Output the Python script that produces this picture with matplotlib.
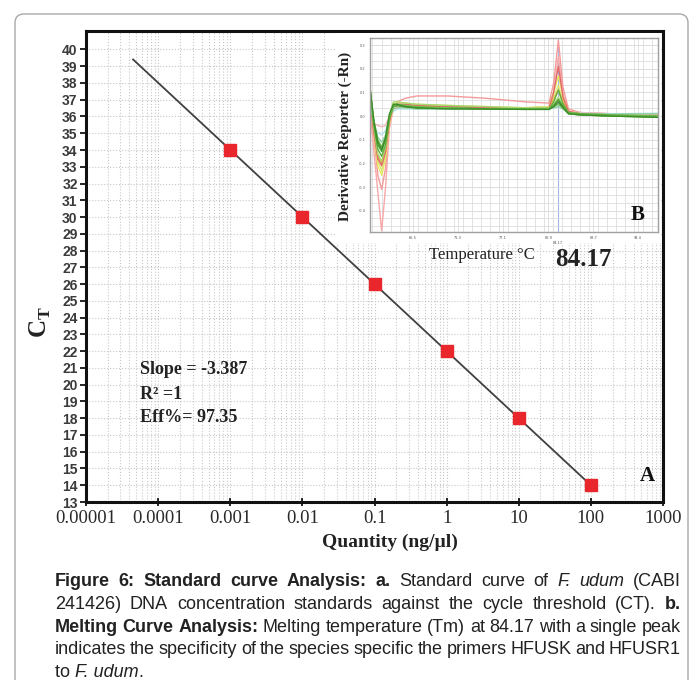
import matplotlib
matplotlib.use("Agg")
import matplotlib.pyplot as plt
from matplotlib.patches import FancyBboxPatch, Rectangle
from matplotlib.transforms import IdentityTransform
from matplotlib.ticker import FixedLocator, LogLocator, MultipleLocator, NullFormatter

W, H = 699, 680

# panel A: standard curve
qty = [0.001, 0.01, 0.1, 1, 10, 100]
ct = [34, 30, 26, 22, 18, 14]
fit_x = [4.5e-5, 100]
fit_y = [39.4, 14]
x_ticks = [1e-5, 1e-4, 1e-3, 1e-2, 1e-1, 1, 10, 100, 1000]
x_tick_labels = ["0.00001", "0.0001", "0.001", "0.01", "0.1", "1", "10", "100", "1000"]
y_ticks = list(range(13, 41))
stats = ["Slope = -3.387", "R\u00b2 =1", "Eff%= 97.35"]

# panel B: melt curves (derivative reporter vs temperature)
temp = [60.0, 60.5, 61.0, 61.5, 62.0, 62.5, 63.0, 63.5, 64.5, 66.0, 70.0,
        75.0, 80.0, 83.0, 83.6, 84.2, 84.8, 85.5, 87.0, 91.0, 97.0]
melt_colors = ['#f7a8a8', '#f49a9a', '#f3b5b5', '#b8e0ea', '#e8e860', '#d8e870',
               '#e8a848', '#e06a6a', '#a8d870', '#90d0a0', '#60b040', '#4aa030',
               '#70c050', '#3c8c28']
melt = [
    [0.02, -0.15, -0.32, -0.485, -0.30, -0.05, 0.03, 0.035, 0.04, 0.04, 0.035, 0.035, 0.035, 0.04, 0.10, 0.25, 0.09, 0.02, 0.01, 0.005, -0.005],
    [0.06, -0.08, -0.25, -0.31, -0.22, -0.02, 0.04, 0.06, 0.075, 0.085, 0.085, 0.075, 0.06, 0.055, 0.14, 0.32, 0.12, 0.03, 0.015, 0.01, 0.005],
    [0.00, -0.03, -0.04, -0.045, -0.04, 0.00, 0.03, 0.04, 0.045, 0.045, 0.04, 0.035, 0.035, 0.035, 0.05, 0.06, 0.04, 0.02, 0.015, 0.01, 0.01],
    [0.02, -0.04, -0.07, -0.08, -0.06, -0.01, 0.02, 0.03, 0.03, 0.03, 0.03, 0.03, 0.03, 0.03, 0.035, 0.04, 0.03, 0.015, 0.012, 0.01, 0.012],
    [0.08, -0.07, -0.21, -0.25, -0.18, -0.03, 0.04, 0.05, 0.05, 0.045, 0.04, 0.035, 0.035, 0.04, 0.10, 0.17, 0.08, 0.02, 0.01, 0.005, 0.0],
    [0.09, -0.06, -0.19, -0.23, -0.16, -0.02, 0.05, 0.06, 0.055, 0.05, 0.045, 0.04, 0.035, 0.04, 0.08, 0.13, 0.06, 0.015, 0.01, 0.005, 0.0],
    [0.07, -0.06, -0.17, -0.20, -0.14, -0.02, 0.04, 0.045, 0.045, 0.04, 0.04, 0.035, 0.035, 0.035, 0.07, 0.11, 0.06, 0.015, 0.01, 0.005, 0.0],
    [0.06, -0.07, -0.18, -0.21, -0.15, -0.02, 0.04, 0.05, 0.05, 0.045, 0.04, 0.035, 0.03, 0.035, 0.10, 0.21, 0.08, 0.02, 0.01, 0.005, 0.0],
    [0.10, -0.05, -0.16, -0.19, -0.13, 0.00, 0.06, 0.06, 0.055, 0.05, 0.045, 0.04, 0.035, 0.035, 0.05, 0.08, 0.045, 0.015, 0.01, 0.005, 0.0],
    [0.05, -0.03, -0.09, -0.11, -0.08, 0.00, 0.03, 0.035, 0.035, 0.03, 0.03, 0.03, 0.03, 0.03, 0.035, 0.04, 0.03, 0.012, 0.01, 0.008, 0.01],
    [0.12, -0.04, -0.14, -0.17, -0.12, -0.01, 0.04, 0.045, 0.04, 0.035, 0.035, 0.03, 0.03, 0.03, 0.06, 0.11, 0.05, 0.015, 0.01, 0.005, 0.0],
    [0.12, -0.03, -0.12, -0.15, -0.10, 0.00, 0.04, 0.045, 0.04, 0.035, 0.035, 0.03, 0.03, 0.03, 0.045, 0.07, 0.04, 0.01, 0.005, 0.0, -0.005],
    [0.11, -0.02, -0.10, -0.13, -0.09, 0.00, 0.045, 0.05, 0.045, 0.04, 0.035, 0.03, 0.03, 0.03, 0.04, 0.05, 0.035, 0.01, 0.005, 0.0, 0.0],
    [0.12, -0.02, -0.11, -0.14, -0.09, 0.01, 0.05, 0.05, 0.04, 0.035, 0.03, 0.03, 0.028, 0.028, 0.04, 0.06, 0.035, 0.01, 0.005, 0.0, -0.005],
]
tm = 84.17
melt_xticks = [65.5, 71.3, 77.1, 82.9, 88.7, 94.4]
melt_yticks = [0.3, 0.2, 0.1, 0.0, -0.1, -0.2, -0.3, -0.4]

caption = [
    [("Figure 6: Standard curve Analysis: a.", "bold"), ("Standard curve of", "normal"),
     ("F. udum", "italic"), ("(CABI", "normal")],
    [("241426) DNA concentration standards against the cycle threshold (CT).", "normal"),
     ("b.", "bold")],
    [("Melting Curve Analysis:", "bold"),
     ("Melting temperature (Tm) at 84.17 with a single peak", "normal")],
    [("indicates the specificity of the species specific the primers HFUSK and HFUSR1", "normal")],
]
caption_last = [("to ", "normal"), ("F. udum", "italic"), (".", "normal")]

SERIF = "Liberation Serif"
SANS = "Liberation Sans"


def fx(px):
    return px / W


def fy(py):
    return 1 - py / H


fig = plt.figure(figsize=(W / 100, H / 100), dpi=100)

# rounded outer frame
frame = FancyBboxPatch((15, -30), 673, H - 14 + 30, boxstyle="round,pad=0,rounding_size=9",
                       transform=IdentityTransform(), fc="white", ec="#a8a8a8", lw=1.0, zorder=-5)
fig.patches.append(frame)

ax = fig.add_axes([fx(86), fy(502), fx(663) - fx(86), fy(31) - fy(502)])
ax.patch.set_alpha(0)
ax.set_xscale("log")
ax.set_xlim(1e-5, 1e3)
ax.set_ylim(13, 41.1)
ax.plot(fit_x, fit_y, color="#404040", lw=1.3, zorder=3)
ax.plot(qty, ct, ls="none", marker="s", ms=8, color="#e8262b", mec="#e8262b", zorder=4)

ax.xaxis.set_major_locator(FixedLocator(x_ticks))
ax.set_xticklabels(x_tick_labels, fontfamily=SERIF, fontsize=13.5, color="#2a2a2a")
ax.xaxis.set_minor_locator(LogLocator(base=10, subs=range(2, 10), numticks=20))
ax.xaxis.set_minor_formatter(NullFormatter())
ax.set_yticks(y_ticks)
ax.set_yticklabels([str(v) for v in y_ticks], fontfamily=SANS, fontweight="bold",
                   fontsize=10, color="#3a3a3a")
ax.tick_params(axis="y", direction="out", length=4, width=1.2, pad=2)
ax.tick_params(axis="x", which="major", direction="inout", length=6, width=1.2, pad=3)
ax.tick_params(axis="x", which="minor", length=0)
ax.grid(True, which="both", axis="x", ls=":", color="#c8c8c8", lw=0.8)
ax.grid(True, which="major", axis="y", ls=":", color="#c8c8c8", lw=0.8)
for s in ax.spines.values():
    s.set_linewidth(2.2)
    s.set_color("#111111")
    s.set_zorder(5)

fig.text(fx(40), fy(322), r"C$_\mathregular{T}$", rotation=90, ha="center", va="center",
         fontfamily=SERIF, fontweight="bold", fontsize=18, color="#222222")
fig.text(fx(390), fy(542), "Quantity (ng/\u00b5l)", ha="center", va="center",
         fontfamily=SERIF, fontweight="bold", fontsize=14, color="#222222")
for i, s in enumerate(stats):
    fig.text(fx(140), fy(370 + 24 * i), s, ha="left", va="center", fontfamily=SERIF,
             fontweight="bold", fontsize=13, color="#222222")
fig.text(fx(647), fy(476), "A", ha="center", va="center", fontfamily=SERIF,
         fontweight="bold", fontsize=15, color="#111111")

# inset panel B
cover = Rectangle((fx(335), fy(243)), fx(661) - fx(335), fy(33) - fy(243),
                  transform=fig.transFigure, fc="white", ec="none", zorder=1)
fig.patches.append(cover)

axb = fig.add_axes([fx(370), fy(232), fx(658) - fx(370), fy(38) - fy(232)], zorder=2)
axb.set_xlim(60, 97)
axb.set_ylim(-0.49, 0.33)
for vals, c in zip(melt, melt_colors):
    axb.plot(temp, vals, color=c, lw=1.0)
axb.axvline(tm, color="#9db8e8", lw=0.8, zorder=0)
axb.set_xticks(melt_xticks)
axb.set_xticklabels([f"{v:.1f}" for v in melt_xticks], fontsize=2.5, color="#555555")
axb.set_yticks(melt_yticks)
axb.set_yticklabels([f"{v:.1f}" for v in melt_yticks], fontsize=2.5, color="#555555")
axb.xaxis.set_minor_locator(MultipleLocator(1.16))
axb.yaxis.set_minor_locator(MultipleLocator(0.0333))
axb.tick_params(which="both", length=0, pad=3)
axb.grid(True, which="both", color="#dddddd", lw=0.6)
axb.set_axisbelow(True)
for s in axb.spines.values():
    s.set_color("#a0a0a0")
    s.set_linewidth(1.0)
axb.text(tm, -0.535, "84.17", ha="center", va="center", fontsize=2.5, color="#555555")
axb.text(0.93, 0.09, "B", transform=axb.transAxes, ha="center", va="center",
         fontfamily=SERIF, fontweight="bold", fontsize=15, color="#111111")

fig.text(fx(345), fy(136), "Derivative Reporter (-Rn)", rotation=90, ha="center", va="center",
         fontfamily=SERIF, fontweight="bold", fontsize=11, color="#222222")
fig.text(fx(482), fy(255), "Temperature \u00b0C", ha="center", va="center",
         fontfamily=SERIF, fontsize=12, color="#222222")
fig.text(fx(583), fy(259), "84.17", ha="center", va="center",
         fontfamily=SERIF, fontweight="bold", fontsize=18, color="#222222")

# caption, justified
renderer = fig.canvas.get_renderer()
cap_left, cap_right = 55, 681
cap_size = 13
baselines = [586, 609, 632, 654, 677]


def cap_style(st):
    if st == "bold":
        return dict(fontweight="bold")
    if st == "italic":
        return dict(fontstyle="italic")
    return {}


for line, base in zip(caption, baselines):
    words = []
    for txt, st in line:
        for w in txt.split():
            t = fig.text(0, fy(base), w, fontfamily=SANS, fontsize=cap_size, va="baseline",
                         color="#222222", **cap_style(st))
            words.append(t)
    widths = [t.get_window_extent(renderer).width for t in words]
    gap = (cap_right - cap_left - sum(widths)) / (len(words) - 1)
    x = cap_left
    for t, wd in zip(words, widths):
        t.set_x(fx(x))
        x += wd + gap

x = cap_left
for txt, st in caption_last:
    t = fig.text(fx(x), fy(baselines[-1]), txt, fontfamily=SANS, fontsize=cap_size,
                 va="baseline", color="#222222", **cap_style(st))
    x += t.get_window_extent(renderer).width

fig.savefig("out.png", dpi=100)
